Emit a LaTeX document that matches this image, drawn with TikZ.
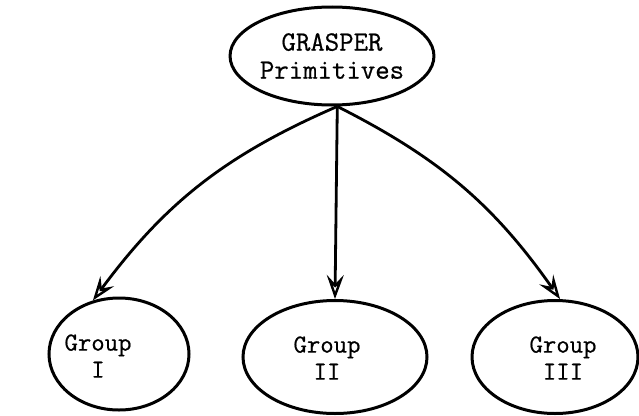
\documentclass[tikz,border=0pt]{standalone}
\usepackage{fontspec}
\newfontfamily\typewriter{Latin Modern Mono}[AutoFakeBold=0.6]
\usetikzlibrary{shapes.geometric,arrows.meta}
\begin{document}
\begin{tikzpicture}[x=1pt,y=-1pt,
  every node/.style={font=\typewriter\bfseries\fontsize{26}{27}\selectfont, align=center},
  oval/.style={ellipse, draw, line width=3pt, inner sep=0pt},
  caption/.style={inner sep=0pt},
  link/.style={line width=2.8pt, -{Stealth[open, length=24pt, width=17pt, inset=9pt, line width=2.4pt]}}]
  \useasboundingbox (0,0) rectangle (639,415);

  % root concept
  \node[oval, minimum width=178pt, minimum height=98pt,
        font=\typewriter\bfseries\fontsize{28}{28}\selectfont] (top) at (332,56) {GRASPER\\Primitives};

  % the three groups
  \node[oval, minimum width=140pt, minimum height=112pt] (g1) at (119,354) {};
  \node[caption] (t1) at (98,356) {Group\\I};
  \node[oval, minimum width=184pt, minimum height=113pt] (g2) at (335,357) {};
  \node[caption] (t2) at (327,358) {Group\\II};
  \node[oval, minimum width=166pt, minimum height=113pt] (g3) at (555,357) {};
  \node[caption] (t3) at (563,358) {Group\\III};

  % links from the root
  \coordinate (src) at (top.-84);
  \draw[link] (src) to[bend right=15] (g1.116);
  \draw[link] (src) -- (g2.north);
  \draw[link] (src) to[bend left=14] (g3.85);
\end{tikzpicture}
\end{document}
